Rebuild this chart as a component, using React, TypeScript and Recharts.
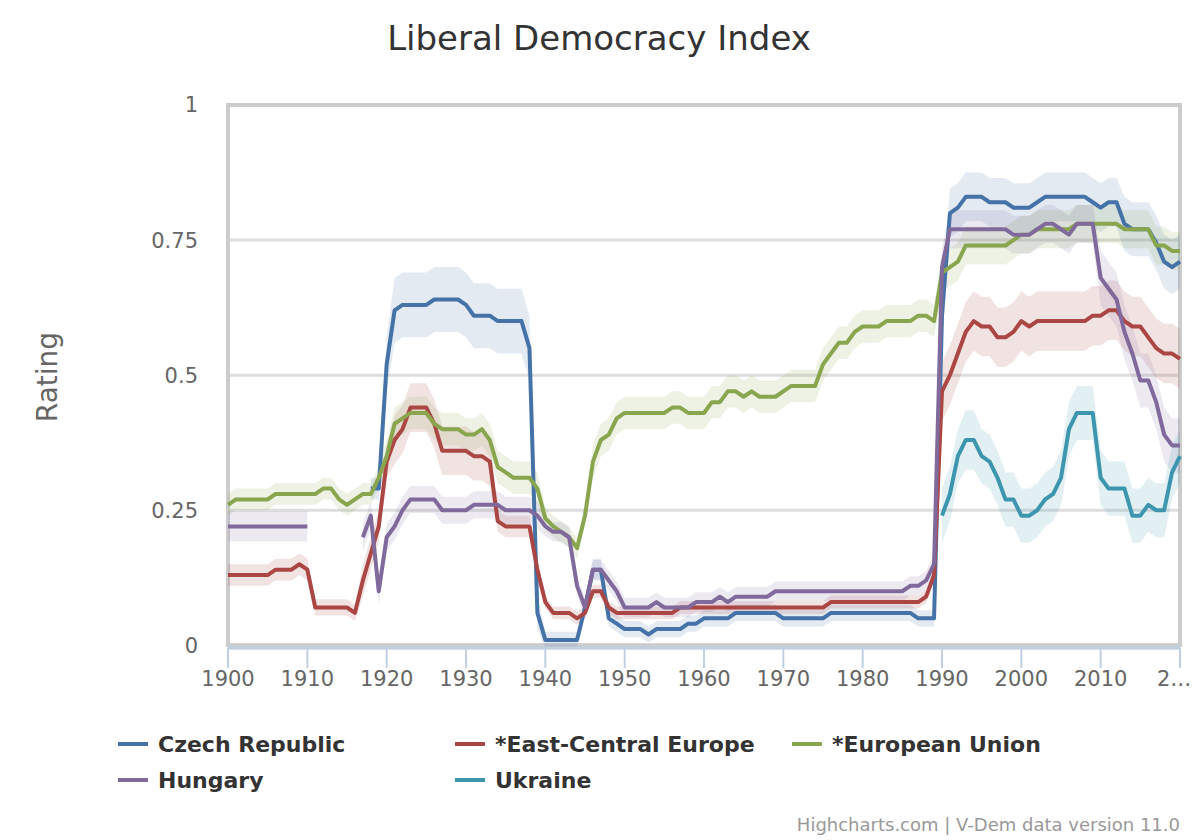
import { ComposedChart, Line, Area, XAxis, YAxis, CartesianGrid, ReferenceArea } from 'recharts'

const FONT = '"DejaVu Sans", Verdana, sans-serif'

// x categories: one point per year
const years = Array.from({ length: 121 }, (_, i) => 1900 + i)
const xTicks = [1900, 1910, 1920, 1930, 1940, 1950, 1960, 1970, 1980, 1990, 2000, 2010, 2020]
const yTicks = [0, 0.25, 0.5, 0.75, 1]

// series values, 1900..2020 (null = no data)
const czech = [
  null, null, null, null, null, null, null, null, null, null,
  null, null, null, null, null, null, null, null, 0.29, 0.29,
  0.52, 0.62, 0.63, 0.63, 0.63, 0.63, 0.64, 0.64, 0.64, 0.64,
  0.63, 0.61, 0.61, 0.61, 0.60, 0.60, 0.60, 0.60, 0.55, 0.06,
  0.01, 0.01, 0.01, 0.01, 0.01, 0.07, 0.14, 0.14, 0.05, 0.04,
  0.03, 0.03, 0.03, 0.02, 0.03, 0.03, 0.03, 0.03, 0.04, 0.04,
  0.05, 0.05, 0.05, 0.05, 0.06, 0.06, 0.06, 0.06, 0.06, 0.06,
  0.05, 0.05, 0.05, 0.05, 0.05, 0.05, 0.06, 0.06, 0.06, 0.06,
  0.06, 0.06, 0.06, 0.06, 0.06, 0.06, 0.06, 0.05, 0.05, 0.05,
  0.61, 0.80, 0.81, 0.83, 0.83, 0.83, 0.82, 0.82, 0.82, 0.81,
  0.81, 0.81, 0.82, 0.83, 0.83, 0.83, 0.83, 0.83, 0.83, 0.82,
  0.81, 0.82, 0.82, 0.78, 0.77, 0.77, 0.77, 0.745, 0.71, 0.70, 0.71,
]
const czechErr = [
  0.02, 0.02, 0.02, 0.02, 0.02, 0.02, 0.02, 0.02, 0.02, 0.02,
  0.02, 0.02, 0.02, 0.02, 0.02, 0.02, 0.02, 0.02, 0.02, 0.02,
  0.05, 0.06, 0.06, 0.06, 0.06, 0.06, 0.06, 0.06, 0.06, 0.06,
  0.06, 0.06, 0.06, 0.06, 0.06, 0.06, 0.06, 0.06, 0.06, 0.03,
  0.015, 0.015, 0.015, 0.015, 0.015, 0.015, 0.02, 0.02, 0.015, 0.015,
  0.015, 0.015, 0.015, 0.015, 0.015, 0.015, 0.015, 0.015, 0.015, 0.015,
  0.015, 0.015, 0.015, 0.015, 0.015, 0.015, 0.015, 0.015, 0.015, 0.015,
  0.015, 0.015, 0.015, 0.015, 0.015, 0.015, 0.015, 0.015, 0.015, 0.015,
  0.015, 0.015, 0.015, 0.015, 0.015, 0.015, 0.015, 0.015, 0.015, 0.015,
  0.05, 0.045, 0.045, 0.045, 0.045, 0.045, 0.045, 0.045, 0.045, 0.045,
  0.045, 0.045, 0.045, 0.045, 0.045, 0.045, 0.045, 0.045, 0.045, 0.045,
  0.045, 0.045, 0.045, 0.05, 0.05, 0.05, 0.05, 0.05, 0.05, 0.05, 0.05,
]

const ece = [
  0.13, 0.13, 0.13, 0.13, 0.13, 0.13, 0.14, 0.14, 0.14, 0.15,
  0.14, 0.07, 0.07, 0.07, 0.07, 0.07, 0.06, 0.12, 0.17, 0.22,
  0.34, 0.38, 0.40, 0.44, 0.44, 0.44, 0.41, 0.36, 0.36, 0.36,
  0.36, 0.35, 0.35, 0.34, 0.23, 0.22, 0.22, 0.22, 0.22, 0.14,
  0.08, 0.06, 0.06, 0.06, 0.05, 0.06, 0.10, 0.10, 0.07, 0.06,
  0.06, 0.06, 0.06, 0.06, 0.06, 0.06, 0.06, 0.07, 0.07, 0.07,
  0.07, 0.07, 0.07, 0.07, 0.07, 0.07, 0.07, 0.07, 0.07, 0.07,
  0.07, 0.07, 0.07, 0.07, 0.07, 0.07, 0.08, 0.08, 0.08, 0.08,
  0.08, 0.08, 0.08, 0.08, 0.08, 0.08, 0.08, 0.08, 0.09, 0.13,
  0.47, 0.50, 0.54, 0.58, 0.60, 0.59, 0.59, 0.57, 0.57, 0.58,
  0.60, 0.59, 0.60, 0.60, 0.60, 0.60, 0.60, 0.60, 0.60, 0.61,
  0.61, 0.62, 0.62, 0.60, 0.59, 0.59, 0.57, 0.55, 0.54, 0.54, 0.53,
]
const eceErr = [
  0.02, 0.02, 0.02, 0.02, 0.02, 0.02, 0.02, 0.02, 0.02, 0.02,
  0.02, 0.015, 0.015, 0.015, 0.015, 0.015, 0.015, 0.03, 0.03, 0.03,
  0.03, 0.045, 0.045, 0.045, 0.045, 0.045, 0.045, 0.045, 0.045, 0.045,
  0.045, 0.045, 0.045, 0.045, 0.02, 0.02, 0.02, 0.02, 0.02, 0.02,
  0.012, 0.012, 0.012, 0.012, 0.012, 0.012, 0.012, 0.012, 0.012, 0.012,
  0.012, 0.012, 0.012, 0.012, 0.012, 0.012, 0.012, 0.012, 0.012, 0.012,
  0.012, 0.012, 0.012, 0.012, 0.012, 0.012, 0.012, 0.012, 0.012, 0.012,
  0.012, 0.012, 0.012, 0.012, 0.012, 0.012, 0.012, 0.012, 0.012, 0.012,
  0.012, 0.012, 0.012, 0.012, 0.012, 0.012, 0.012, 0.012, 0.012, 0.012,
  0.055, 0.055, 0.055, 0.055, 0.055, 0.055, 0.055, 0.055, 0.055, 0.055,
  0.055, 0.055, 0.055, 0.055, 0.055, 0.055, 0.055, 0.055, 0.055, 0.055,
  0.055, 0.055, 0.055, 0.055, 0.055, 0.055, 0.055, 0.055, 0.055, 0.055, 0.055,
]

const eu = [
  0.26, 0.27, 0.27, 0.27, 0.27, 0.27, 0.28, 0.28, 0.28, 0.28,
  0.28, 0.28, 0.29, 0.29, 0.27, 0.26, 0.27, 0.28, 0.28, 0.31,
  0.35, 0.41, 0.42, 0.43, 0.43, 0.43, 0.41, 0.40, 0.40, 0.40,
  0.39, 0.39, 0.40, 0.38, 0.33, 0.32, 0.31, 0.31, 0.31, 0.29,
  0.235, 0.22, 0.21, 0.20, 0.18, 0.24, 0.34, 0.38, 0.39, 0.42,
  0.43, 0.43, 0.43, 0.43, 0.43, 0.43, 0.44, 0.44, 0.43, 0.43,
  0.43, 0.45, 0.45, 0.47, 0.47, 0.46, 0.47, 0.46, 0.46, 0.46,
  0.47, 0.48, 0.48, 0.48, 0.48, 0.52, 0.54, 0.56, 0.56, 0.58,
  0.59, 0.59, 0.59, 0.60, 0.60, 0.60, 0.60, 0.61, 0.61, 0.60,
  0.69, 0.70, 0.71, 0.74, 0.74, 0.74, 0.74, 0.74, 0.74, 0.75,
  0.76, 0.76, 0.77, 0.77, 0.77, 0.77, 0.77, 0.78, 0.78, 0.78,
  0.78, 0.78, 0.78, 0.77, 0.77, 0.77, 0.77, 0.74, 0.74, 0.73, 0.73,
]
const euErr = [
  0.02, 0.02, 0.02, 0.02, 0.02, 0.02, 0.02, 0.02, 0.02, 0.02,
  0.02, 0.02, 0.02, 0.02, 0.02, 0.02, 0.02, 0.02, 0.02, 0.02,
  0.03, 0.03, 0.03, 0.03, 0.03, 0.03, 0.03, 0.03, 0.03, 0.03,
  0.03, 0.03, 0.03, 0.03, 0.03, 0.03, 0.03, 0.03, 0.03, 0.03,
  0.02, 0.02, 0.02, 0.02, 0.02, 0.02, 0.03, 0.03, 0.03, 0.03,
  0.03, 0.03, 0.03, 0.03, 0.03, 0.03, 0.03, 0.03, 0.03, 0.03,
  0.03, 0.03, 0.03, 0.03, 0.03, 0.03, 0.03, 0.03, 0.03, 0.03,
  0.03, 0.03, 0.03, 0.03, 0.03, 0.03, 0.03, 0.03, 0.03, 0.03,
  0.03, 0.03, 0.03, 0.03, 0.03, 0.03, 0.03, 0.03, 0.03, 0.03,
  0.035, 0.035, 0.035, 0.035, 0.035, 0.035, 0.035, 0.035, 0.035, 0.035,
  0.035, 0.035, 0.035, 0.035, 0.035, 0.035, 0.035, 0.035, 0.035, 0.035,
  0.035, 0.035, 0.035, 0.035, 0.035, 0.035, 0.035, 0.035, 0.035, 0.035, 0.035,
]

const hungary = [
  0.22, 0.22, 0.22, 0.22, 0.22, 0.22, 0.22, 0.22, 0.22, 0.22,
  0.22, null, null, null, null, null, null, 0.20, 0.24, 0.10,
  0.20, 0.22, 0.25, 0.27, 0.27, 0.27, 0.27, 0.25, 0.25, 0.25,
  0.25, 0.26, 0.26, 0.26, 0.26, 0.25, 0.25, 0.25, 0.25, 0.24,
  0.22, 0.21, 0.21, 0.20, 0.11, 0.07, 0.14, 0.14, 0.12, 0.10,
  0.07, 0.07, 0.07, 0.07, 0.08, 0.07, 0.07, 0.07, 0.07, 0.08,
  0.08, 0.08, 0.09, 0.08, 0.09, 0.09, 0.09, 0.09, 0.09, 0.10,
  0.10, 0.10, 0.10, 0.10, 0.10, 0.10, 0.10, 0.10, 0.10, 0.10,
  0.10, 0.10, 0.10, 0.10, 0.10, 0.10, 0.11, 0.11, 0.12, 0.15,
  0.70, 0.77, 0.77, 0.77, 0.77, 0.77, 0.77, 0.77, 0.77, 0.76,
  0.76, 0.76, 0.77, 0.78, 0.78, 0.77, 0.76, 0.78, 0.78, 0.78,
  0.68, 0.66, 0.64, 0.58, 0.54, 0.49, 0.49, 0.45, 0.39, 0.37, 0.37,
]
const hungaryErr = [
  0.028, 0.028, 0.028, 0.028, 0.028, 0.028, 0.028, 0.028, 0.028, 0.028,
  0.028, 0.025, 0.025, 0.025, 0.025, 0.025, 0.025, 0.025, 0.025, 0.025,
  0.025, 0.025, 0.025, 0.025, 0.025, 0.025, 0.025, 0.025, 0.025, 0.025,
  0.025, 0.025, 0.025, 0.025, 0.025, 0.025, 0.025, 0.025, 0.025, 0.025,
  0.018, 0.018, 0.018, 0.018, 0.018, 0.018, 0.018, 0.018, 0.018, 0.018,
  0.018, 0.018, 0.018, 0.018, 0.018, 0.018, 0.018, 0.018, 0.018, 0.018,
  0.018, 0.018, 0.018, 0.018, 0.018, 0.018, 0.018, 0.018, 0.018, 0.018,
  0.018, 0.018, 0.018, 0.018, 0.018, 0.018, 0.018, 0.018, 0.018, 0.018,
  0.018, 0.018, 0.018, 0.018, 0.018, 0.018, 0.018, 0.018, 0.018, 0.018,
  0.035, 0.035, 0.035, 0.035, 0.035, 0.035, 0.035, 0.035, 0.035, 0.035,
  0.035, 0.035, 0.035, 0.035, 0.035, 0.035, 0.035, 0.035, 0.035, 0.035,
  0.05, 0.05, 0.05, 0.05, 0.05, 0.05, 0.05, 0.05, 0.05, 0.05, 0.05,
]

// Ukraine has no data before 1990
const ukraine = [
  ...Array(90).fill(null),
  0.24, 0.28, 0.35, 0.38, 0.38, 0.35, 0.34, 0.31, 0.27, 0.27,
  0.24, 0.24, 0.25, 0.27, 0.28, 0.31, 0.40, 0.43, 0.43, 0.43,
  0.31, 0.29, 0.29, 0.29, 0.24, 0.24, 0.26, 0.25, 0.25, 0.32, 0.35,
]
const ukraineErr = [
  ...Array(90).fill(null),
  0.05, 0.05, 0.05, 0.055, 0.055, 0.05, 0.05, 0.05, 0.05, 0.05,
  0.05, 0.05, 0.05, 0.05, 0.05, 0.05, 0.05, 0.05, 0.05, 0.05,
  0.05, 0.05, 0.05, 0.05, 0.05, 0.05, 0.05, 0.05, 0.05, 0.05, 0.05,
]

const series = [
  { key: 'czech', name: 'Czech Republic', color: '#4572A7', values: czech, err: czechErr },
  { key: 'ece', name: '*East-Central Europe', color: '#AA4643', values: ece, err: eceErr },
  { key: 'eu', name: '*European Union', color: '#89A54E', values: eu, err: euErr },
  { key: 'hungary', name: 'Hungary', color: '#80699B', values: hungary, err: hungaryErr },
  { key: 'ukraine', name: 'Ukraine', color: '#3D96AE', values: ukraine, err: ukraineErr },
]

const data = years.map((year, i) => {
  const row: Record<string, any> = { year }
  series.forEach((s) => {
    const v = s.values[i]
    row[s.key] = v
    row[s.key + 'Band'] = v == null ? null : [v - s.err[i], v + s.err[i]]
  })
  return row
})

const XTick = (props: any) => {
  const { x, y, payload } = props
  // last label is cut off at the chart edge, as in the original
  const last = payload.value === 2020
  return (
    <text x={last ? x - 23 : x} y={y} dy={16} textAnchor={last ? 'start' : 'middle'} fill="#666" fontSize={21} fontFamily={FONT}>
      {last ? '2…' : payload.value}
    </text>
  )
}

export default function App() {
  return (
    <div style={{ position: 'absolute', left: 0, top: 0, width: 1200, height: 840, background: '#fff', fontFamily: FONT }}>
      <ComposedChart width={1200} height={840} data={data} margin={{ top: 105, right: 20, bottom: 132, left: 148 }}>
        <CartesianGrid vertical={false} stroke="#dedede" strokeWidth={3} />
        <ReferenceArea x1={1900} x2={2020} y1={0} y2={1} fill="none" stroke="#cccccc" strokeWidth={4} ifOverflow="visible" />
        <XAxis
          type="number"
          dataKey="year"
          domain={[1900, 2020]}
          ticks={xTicks}
          interval={0}
          tick={<XTick />}
          tickSize={20}
          tickMargin={2}
          height={60}
          axisLine={{ stroke: '#C0D0E0', strokeWidth: 3 }}
          tickLine={{ stroke: '#C0D0E0', strokeWidth: 2 }}
        />
        <YAxis
          type="number"
          domain={[0, 1]}
          ticks={yTicks}
          interval={0}
          width={80}
          tickSize={0}
          tickMargin={30}
          axisLine={false}
          tickLine={false}
          tick={{ fontSize: 21, fill: '#666', fontFamily: FONT }}
        />
        {series.map((s) => (
          <Area
            key={s.key + 'Band'}
            dataKey={s.key + 'Band'}
            type="linear"
            stroke="none"
            fill={s.color}
            fillOpacity={0.15}
            dot={false}
            activeDot={false}
            isAnimationActive={false}
          />
        ))}
        {series.map((s) => (
          <Line
            key={s.key}
            dataKey={s.key}
            name={s.name}
            type="linear"
            stroke={s.color}
            strokeWidth={4}
            strokeLinejoin="round"
            dot={false}
            activeDot={false}
            isAnimationActive={false}
          />
        ))}
      </ComposedChart>

      <svg width={1200} height={840} style={{ position: 'absolute', left: 0, top: 0, pointerEvents: 'none' }}>
        <text x={599} y={50} textAnchor="middle" fontSize={34} fill="#333" fontFamily={FONT}>
          Liberal Democracy Index
        </text>
        <text x={57} y={377} textAnchor="middle" fontSize={28} fill="#666" fontFamily={FONT} transform="rotate(-90 57 377)">
          Rating
        </text>
        <text x={1180} y={831} textAnchor="end" fontSize={18} fill="#999" fontFamily={FONT}>
          Highcharts.com | V-Dem data version 11.0
        </text>
      </svg>

      <div style={{ position: 'absolute', left: 118, top: 726, width: 1020, display: 'flex', flexWrap: 'wrap' }}>
        {series.map((s) => (
          <div key={s.key} style={{ width: 337, height: 36, display: 'flex', alignItems: 'center' }}>
            <span style={{ width: 30, height: 4, background: s.color, marginRight: 10 }} />
            <span style={{ fontSize: 22, fontWeight: 'bold', color: '#333' }}>{s.name}</span>
          </div>
        ))}
      </div>
    </div>
  )
}
